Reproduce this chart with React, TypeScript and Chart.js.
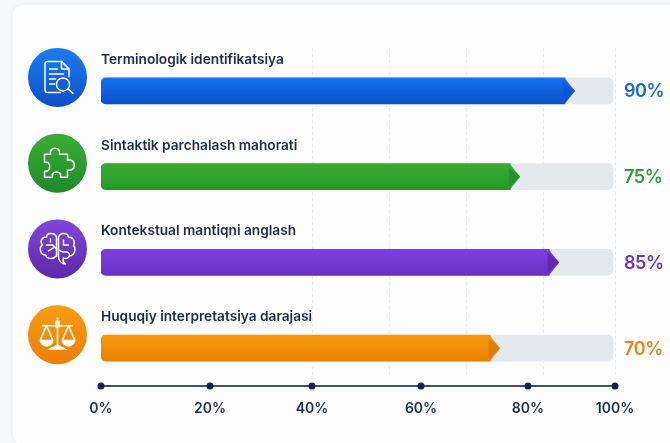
import React, { useEffect, useRef } from "react";
import { Chart, LinearScale, registerables } from "chart.js";

Chart.register(...registerables);

// ---- Data ----
const categories = [
  "Terminologik identifikatsiya",
  "Sintaktik parchalash mahorati",
  "Kontekstual mantiqni anglash",
  "Huquqiy interpretatsiya darajasi",
];
const scoreValues = [90, 75, 85, 70];
const trackValues = [100, 100, 100, 100];
const axisTicks = [0, 20, 40, 60, 80, 100];
const gridValues = [41, 56, 71, 86, 100];

// The picture's axes are not evenly spaced: [value, fraction of the plot width]
const axisKnots = [[0, 0], [20, 0.212], [40, 0.4105], [60, 0.6226], [80, 0.8307], [100, 1]];
const barKnots = [[0, 0], [70, 0.757], [75, 0.796], [85, 0.872], [90, 0.9027], [100, 0.996]];

const gradientTop = ["#1470ee", "#38ab30", "#7f3fdc", "#f89a0c"];
const gradientBottom = ["#0a50cc", "#239a2c", "#6a30c4", "#ea8004"];
const tipColors = ["#0d55d6", "#1f8f2b", "#5a27a8", "#d9760a"];
const circleTop = ["#1b7cf0", "#3bad34", "#8048dc", "#f89c12"];
const circleBottom = ["#0b50c8", "#1f8a2b", "#5b28a8", "#ea7f08"];
const valueColors = ["#1c69dd", "#2f9c36", "#6a35bd", "#e8861a"];

const TEXT = "#1e2a4f";
const FONT = "Inter, 'Noto Sans', sans-serif";
const BAR_H = 26;

// ---- Scale whose value→pixel mapping follows a list of knots ----
class WarpScale extends LinearScale {
  static id = "warp";
  static defaults = {};
  getPixelForValue(value: number) {
    const k = (this as any).options.knots as number[][];
    let f = 0;
    for (let i = 0; i < k.length - 1; i++) {
      if (value <= k[i + 1][0] || i === k.length - 2) {
        const t = (value - k[i][0]) / (k[i + 1][0] - k[i][0]);
        f = k[i][1] + t * (k[i + 1][1] - k[i][1]);
        break;
      }
    }
    return this.left + f * this.width;
  }
}
Chart.register(WarpScale as any);

// ---- Icons, in coordinates relative to the circle centre ----
const ICON_PATHS = [
  [
    "M 3 15 H -10 a 2.5 2.5 0 0 1 -2.5 -2.5 V -13.5 a 2.5 2.5 0 0 1 2.5 -2.5 H 4 L 11.5 -8.5 V -1",
    "M 4 -16 V -8.5 H 11.5",
    "M -8 -8.5 H 0 M -8 -3.5 H 6 M -8 1.5 H -2 M -8 6.5 H -3",
    "M 12 7 a 6.5 6.5 0 1 1 -13 0 a 6.5 6.5 0 1 1 13 0",
    "M 10.5 11.5 L 15.5 16",
  ],
  [
    "M -13 -9 H -7 C -9 -17 4 -17 2 -9 H 10 V -3 C 19 -5 19 9 10 7 V 14 H 3 C 5 7 -7 7 -5 14 H -13 V 8 C -6 10 -6 -3 -13 -1 Z",
  ],
  [
    "M -1 -12 C -3 -17 -11 -16 -11 -12 C -16 -12 -18 -7 -15 -4 C -19 -1 -17 6 -12 6 C -11 10 -5 11 -1 7 Z",
    "M 1 -12 C 3 -17 10 -16 11 -12 C 16 -12 18 -7 16 -3 C 19 0 17 7 12 7 C 11 10 8 10 6 9 C 5 12 6 14 8 15 C 3 15 1 11 1 7 Z",
    "M -11 -4 H -5 L -1 0 M -9 2 L -4 -1 M -7 -10 V -7 M 6 -9 V -4 H 11 M 1 1 L 5 3 H 9 C 11 3 12 5 12 7",
  ],
  ["M 0 -17 V 12 M -15 -9 H 15 M -11 -9 L -17 5 M -11 -9 L -5 5 M 11 -9 L 5 5 M 11 -9 L 17 5"],
];
const ICON_FILLS = [
  [],
  [],
  [],
  [
    "M -18 5 H -4 A 7 7 0 0 1 -18 5 Z",
    "M 4 5 H 18 A 7 7 0 0 1 4 5 Z",
    "M -10 15 C -6 12 -3 12 -1.5 10 H 1.5 C 3 12 6 12 10 15 Z",
    "M -2.2 -14 H 2.2 V -7 H -2.2 Z",
  ],
];

function roundedRect(c: CanvasRenderingContext2D, x: number, y: number, w: number, h: number, r: number) {
  c.beginPath();
  c.roundRect(x, y, w, h, r);
}

const backdrop = {
  id: "backdrop",
  beforeDraw(chart: any) {
    const c = chart.ctx as CanvasRenderingContext2D;
    const a = chart.chartArea;
    const bottomLine = a.bottom - 5;
    c.save();
    c.fillStyle = "#f7f8f9";
    c.fillRect(0, 0, chart.width, chart.height);
    c.shadowColor = "rgba(30,40,70,0.06)";
    c.shadowBlur = 5;
    c.fillStyle = "#fdfdfe";
    roundedRect(c, a.left - 88, a.top - 43, chart.width + 40, chart.height - 4, 9);
    c.fill();
    c.shadowBlur = 0;
    // dashed vertical guide lines
    const g = chart.scales.xGrid;
    c.strokeStyle = "#e7e9ed";
    c.lineWidth = 1;
    c.setLineDash([3, 3]);
    gridValues.forEach((v) => {
      const x = Math.round(g.getPixelForValue(v)) + 0.5;
      c.beginPath();
      c.moveTo(x, a.top);
      c.lineTo(x, bottomLine - 9);
      c.stroke();
    });
    c.restore();
  },
};

const overlay = {
  id: "overlay",
  afterDatasetsDraw(chart: any) {
    const c = chart.ctx as CanvasRenderingContext2D;
    const a = chart.chartArea;
    const y = chart.scales.y;
    const xs = chart.scales.x;
    const bars = chart.getDatasetMeta(1).data;
    c.save();

    categories.forEach((name, i) => {
      const cy = y.getPixelForValue(i);
      // arrow head at the end of each bar
      const bx = bars[i].x;
      const top = cy - BAR_H / 2;
      const bot = cy + BAR_H / 2;
      const g = c.createLinearGradient(0, top, 0, bot);
      g.addColorStop(0, gradientTop[i]);
      g.addColorStop(1, gradientBottom[i]);
      c.fillStyle = g;
      c.beginPath();
      c.moveTo(bx - 0.5, top);
      c.lineTo(bx + 10, cy);
      c.lineTo(bx - 0.5, bot);
      c.closePath();
      c.fill();
      c.fillStyle = tipColors[i];
      c.globalAlpha = 0.75;
      c.beginPath();
      c.moveTo(bx - 1.5, top + 3);
      c.lineTo(bx + 10, cy);
      c.lineTo(bx - 1.5, bot - 3);
      c.closePath();
      c.fill();
      c.globalAlpha = 1;

      // category label above the bar
      c.fillStyle = TEXT;
      c.font = `600 13.7px ${FONT}`;
      c.textAlign = "left";
      c.textBaseline = "middle";
      c.fillText(name, a.left, cy - 31);

      // value label
      c.fillStyle = valueColors[i];
      c.font = `600 18px ${FONT}`;
      (c as any).letterSpacing = "-0.4px";
      c.fillText(`${scoreValues[i]}%`, a.right + 9, cy + 1);
      (c as any).letterSpacing = "0px";

      // icon disc
      const ix = a.left - 43.5;
      const iy = cy - 13.5;
      const dg = c.createLinearGradient(0, iy - 29.5, 0, iy + 29.5);
      dg.addColorStop(0, circleTop[i]);
      dg.addColorStop(1, circleBottom[i]);
      c.fillStyle = dg;
      c.beginPath();
      c.arc(ix, iy, 29.5, 0, Math.PI * 2);
      c.fill();
      c.save();
      c.translate(ix, iy);
      c.strokeStyle = "#ffffff";
      c.fillStyle = "#ffffff";
      c.lineWidth = 1.5;
      c.lineCap = "round";
      c.lineJoin = "round";
      ICON_PATHS[i].forEach((p) => c.stroke(new Path2D(p)));
      ICON_FILLS[i].forEach((p) => c.fill(new Path2D(p)));
      c.restore();
    });

    // axis line with dots
    const ly = a.bottom - 5;
    c.strokeStyle = "#3e5072";
    c.lineWidth = 2;
    c.beginPath();
    c.moveTo(a.left, ly);
    c.lineTo(a.right, ly);
    c.stroke();
    c.fillStyle = "#0e2350";
    xs.ticks.forEach((_: any, i: number) => {
      c.beginPath();
      c.arc(xs.getPixelForTick(i), ly, 3.5, 0, Math.PI * 2);
      c.fill();
    });
    c.restore();
  },
};

export default function App() {
  const ref = useRef<HTMLCanvasElement>(null);
  useEffect(() => {
    const chart = new Chart(ref.current as HTMLCanvasElement, {
      type: "bar",
      data: {
        labels: categories,
        datasets: [
          {
            label: "Track",
            data: trackValues,
            xAxisID: "xBar",
            yAxisID: "y",
            backgroundColor: "#e5e8ec",
            borderRadius: 5,
            borderSkipped: false,
            barThickness: BAR_H,
            grouped: false,
            order: 2,
          },
          {
            label: "Score",
            data: scoreValues,
            xAxisID: "xBar",
            yAxisID: "y",
            backgroundColor: (ctx: any) => {
              const { chart: ch, dataIndex } = ctx;
              if (dataIndex === undefined || !ch.scales.y) return gradientTop[0];
              const cy = ch.scales.y.getPixelForValue(dataIndex);
              if (!Number.isFinite(cy)) return gradientTop[dataIndex];
              const g = ch.ctx.createLinearGradient(0, cy - BAR_H / 2, 0, cy + BAR_H / 2);
              g.addColorStop(0, gradientTop[dataIndex]);
              g.addColorStop(1, gradientBottom[dataIndex]);
              return g;
            },
            borderRadius: { topLeft: 5, bottomLeft: 5, topRight: 0, bottomRight: 0 },
            borderSkipped: false,
            barThickness: BAR_H,
            grouped: false,
            order: 1,
          },
        ],
      },
      options: {
        indexAxis: "y",
        animation: false,
        responsive: false,
        layout: { padding: { left: 101, right: 55, top: 48, bottom: 0 } },
        plugins: { legend: { display: false }, tooltip: { enabled: false } },
        scales: {
          y: { type: "category", display: false, reverse: false, offset: true },
          xBar: { type: "warp", axis: "x", display: false, min: 0, max: 100, knots: barKnots },
          xGrid: { type: "linear", axis: "x", display: false, min: 0, max: 100 },
          x: {
            type: "warp",
            axis: "x",
            position: "bottom",
            min: 0,
            max: 100,
            knots: axisKnots,
            border: { display: false },
            grid: { display: false, drawTicks: false },
            afterBuildTicks: (s: any) => {
              s.ticks = axisTicks.map((value) => ({ value }));
            },
            afterFit: (s: any) => {
              s.height = 52;
            },
            ticks: {
              autoSkip: false,
              maxRotation: 0,
              padding: 9,
              color: TEXT,
              font: { family: FONT, size: 14, weight: "600" },
              callback: (v: any) => `${v}%`,
            },
          },
        },
      } as any,
      plugins: [backdrop, overlay],
    } as any);
    return () => chart.destroy();
  }, []);
  return (
    <div style={{ position: "absolute", left: 0, top: 0, width: 670, height: 443 }}>
      <canvas ref={ref} width={670} height={443} style={{ display: "block" }} />
    </div>
  );
}
